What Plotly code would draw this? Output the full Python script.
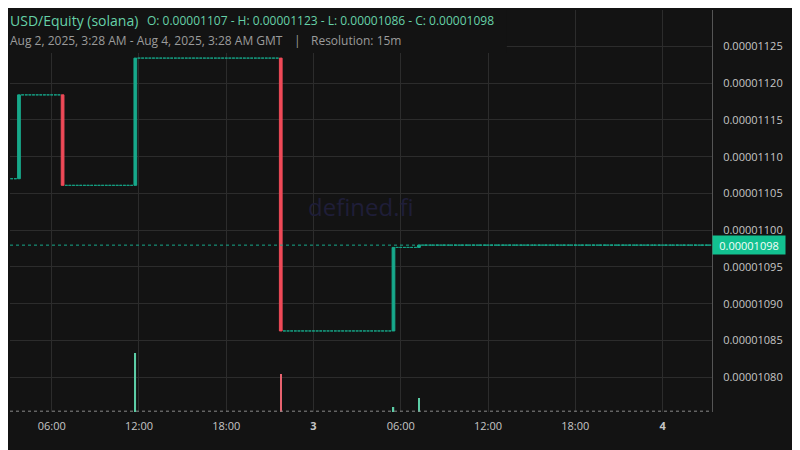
import pandas as pd
import plotly.graph_objects as go

BG = "#131313"
GRID = "#2c2c2c"
UP = "#17a98b"
DOWN = "#ef4a58"
UP_VOL = "#5ccda6"
DOWN_VOL = "#e8636f"
HEAD = "#66d1a8"

# 15m bars, GMT. prices are in units of 1e-8 USD
bar_start = "2025-08-02 03:15"
bar_end = "2025-08-04 03:15"
first_price = 1107.0

# bars where the price moved; all other bars are flat (no trades) at the last close
move_time = ["2025-08-02 03:45", "2025-08-02 06:45", "2025-08-02 11:45",
             "2025-08-02 21:45", "2025-08-03 05:30", "2025-08-03 07:15"]
move_open = [1107.0, 1118.4, 1106.1, 1123.4, 1086.3, 1097.66]
move_close = [1118.4, 1106.1, 1123.4, 1086.3, 1097.66, 1097.97]
move_vol = [0, 0, 1180, 760, 100, 280]

x_ticks = ["2025-08-02 06:00", "2025-08-02 12:00", "2025-08-02 18:00", "2025-08-03 00:00",
           "2025-08-03 06:00", "2025-08-03 12:00", "2025-08-03 18:00", "2025-08-04 00:00"]
x_labels = ["06:00", "12:00", "18:00", "<b>3</b>", "06:00", "12:00", "18:00", "<b>4</b>"]

slots = pd.date_range(bar_start, bar_end, freq="15min")
moves = {pd.Timestamp(t): (o, c, v) for t, o, c, v in zip(move_time, move_open, move_close, move_vol)}

flat_x, flat_p = [], []
mv_x, mv_o, mv_c = [], [], []
vol_x, vol_y, vol_col = [], [], []
last = first_price
for t in slots:
    if t in moves:
        o, c, v = moves[t]
        mv_x.append(t)
        mv_o.append(o * 1e-8)
        mv_c.append(c * 1e-8)
        vol_x.append(t)
        vol_y.append(v)
        vol_col.append(UP_VOL if c >= o else DOWN_VOL)
        last = c
    else:
        flat_x.append(t)
        flat_p.append(last * 1e-8)

fig = go.Figure()

# flat bars (open == close) are drawn teal
fig.add_trace(go.Candlestick(
    x=flat_x, open=flat_p, high=flat_p, low=flat_p, close=flat_p,
    increasing=dict(line=dict(color=UP, width=0.7), fillcolor=UP),
    decreasing=dict(line=dict(color=UP, width=0.7), fillcolor=UP),
    hoverinfo="skip",
))
fig.add_trace(go.Candlestick(
    x=mv_x, open=mv_o, close=mv_c,
    high=[max(a, b) for a, b in zip(mv_o, mv_c)],
    low=[min(a, b) for a, b in zip(mv_o, mv_c)],
    increasing=dict(line=dict(color=UP, width=1), fillcolor=UP),
    decreasing=dict(line=dict(color=DOWN, width=1), fillcolor=DOWN),
))
fig.add_trace(go.Bar(
    x=vol_x, y=vol_y, marker=dict(color=vol_col, line=dict(width=0)),
    width=15 * 60 * 1000 * 0.4, yaxis="y2",
))

last_close = mv_c[-1]

fig.add_shape(type="line", xref="paper", x0=0, x1=1, yref="y", y0=last_close, y1=last_close,
              line=dict(color=UP, width=1, dash="dot"))
fig.add_shape(type="line", xref="paper", x0=0, x1=1, yref="paper", y0=0.002, y1=0.002,
              line=dict(color="#8a8a8a", width=1, dash="dot"))
# header box hides the grid behind the legend text
fig.add_shape(type="rect", xref="paper", x0=0, x1=0.7077, yref="paper", y0=0.893, y1=1.0,
              fillcolor=BG, line=dict(width=0), layer="above")

fig.add_annotation(x=1, xref="paper", y=last_close, yref="y", xanchor="left", yanchor="middle",
                   text=f"{last_close:.8f}", showarrow=False, bgcolor="#12c190",
                   width=70, height=16, font=dict(color="#f2fffa", size=11))
fig.add_annotation(x=0.5, y=0.51, xref="paper", yref="paper", text="defined.fi", showarrow=False,
                   font=dict(size=24, color="#1f1e38"))

fig.add_annotation(x=-0.003, y=0.975, xref="paper", yref="paper", xanchor="left", yanchor="middle",
                   text="USD/Equity (solana)", showarrow=False, font=dict(size=14, color=HEAD))
fig.add_annotation(x=0.192, y=0.974, xref="paper", yref="paper", xanchor="left", yanchor="middle",
                   text="O: 0.00001107 - H: 0.00001123 - L: 0.00001086 - C: 0.00001098",
                   showarrow=False, font=dict(size=12, color=HEAD))
fig.add_annotation(x=-0.003, y=0.925, xref="paper", yref="paper", xanchor="left", yanchor="middle",
                   text="Aug 2, 2025, 3:28 AM - Aug 4, 2025, 3:28 AM GMT", showarrow=False,
                   font=dict(size=12, color="#9b9b9b"))
fig.add_annotation(x=0.410, y=0.925, xref="paper", yref="paper", xanchor="center", yanchor="middle",
                   text="|", showarrow=False, font=dict(size=12, color="#9b9b9b"))
fig.add_annotation(x=0.426, y=0.925, xref="paper", yref="paper", xanchor="left", yanchor="middle",
                   text="Resolution: 15m", showarrow=False, font=dict(size=12, color="#9b9b9b"))

fig.update_layout(
    width=800, height=450,
    # the page adds an 8px body margin, so the plot area sits at x 10..712, y 10..412
    margin=dict(l=2, r=96, t=2, b=46),
    paper_bgcolor=BG, plot_bgcolor=BG,
    showlegend=False,
    boxgap=0.15, boxgroupgap=0.12,
    font=dict(family="Open Sans", color="#c6c6c6", size=11),
    xaxis=dict(range=["2025-08-02 03:08", "2025-08-04 03:24"], rangeslider=dict(visible=False),
               tickvals=x_ticks, ticktext=x_labels, showgrid=True, gridcolor=GRID,
               zeroline=False, showline=False, ticks="", ticklabelstandoff=6),
    yaxis=dict(side="right", range=[1075.28e-8, 1129.94e-8], tick0=0, dtick=5e-8,
               tickformat=".8f", showgrid=True, gridcolor=GRID, zeroline=False,
               showline=True, linecolor="#555555", ticks="", ticklabelstandoff=8),
    yaxis2=dict(overlaying="y", range=[0, 8040], visible=False),
)

fig.write_html("out.html")
